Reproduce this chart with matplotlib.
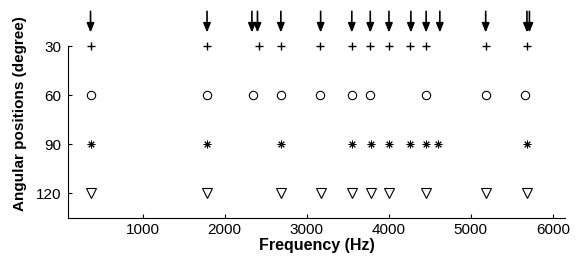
import matplotlib
matplotlib.use("Agg")
import matplotlib.pyplot as plt

plt.rcParams['font.family'] = ['Liberation Sans', 'DejaVu Sans']

# Data (frequencies in Hz)
arrow_freqs = [365, 1785, 2332, 2400, 2685, 3170, 3550, 3775, 4003, 4270, 4456, 4623, 5182, 5685, 5715]
plus_freqs = [365, 1785, 2413, 2685, 3163, 3548, 3775, 4003, 4258, 4456, 5182, 5690]
circle_freqs = [365, 1785, 2344, 2685, 3163, 3548, 3775, 4456, 5182, 5657]
star_freqs = [365, 1785, 2685, 3556, 3783, 4000, 4258, 4453, 4595, 5690]
tri_freqs = [365, 1785, 2685, 3175, 3556, 3780, 4000, 4456, 5182, 5690]
angles = [30, 60, 90, 120]
xticks = [1000, 2000, 3000, 4000, 5000, 6000]

fig = plt.figure(figsize=(5.79, 2.62), dpi=100)
ax = fig.add_axes([0.1174, 0.168, 0.976 - 0.1174, 0.981 - 0.168])

ax.plot(plus_freqs, [angles[0]] * len(plus_freqs), linestyle='none', marker='+',
        color='black', markersize=5.5, markeredgewidth=1.0)
ax.plot(circle_freqs, [angles[1]] * len(circle_freqs), linestyle='none', marker='o',
        markerfacecolor='none', markeredgecolor='black', markersize=6, markeredgewidth=0.8)
ax.plot(star_freqs, [angles[2]] * len(star_freqs), linestyle='none', marker=(8, 2, 0),
        color='black', markersize=5.5, markeredgewidth=0.7)
ax.plot(tri_freqs, [angles[3]] * len(tri_freqs), linestyle='none', marker='v',
        markerfacecolor='none', markeredgecolor='black', markersize=6.5, markeredgewidth=0.8)

for f in arrow_freqs:
    ax.annotate('', xy=(f, 21.5), xytext=(f, 8.5),
                arrowprops=dict(arrowstyle='-|>,head_length=0.55,head_width=0.22',
                                color='black', lw=1.2, shrinkA=0, shrinkB=0))

ax.set_xlim(90, 6150)
ax.set_ylim(135, 4.6)
ax.set_xticks(xticks)
ax.set_yticks(angles)
ax.spines['top'].set_visible(False)
ax.spines['right'].set_visible(False)
ax.spines['left'].set_bounds(30, 135)
ax.tick_params(direction='in', length=3, labelsize=11, width=0.8)
ax.tick_params(axis='y', pad=5)
ax.set_xlabel('Frequency (Hz)', fontsize=11.5, fontweight='bold', labelpad=1)
ax.set_ylabel('Angular positions (degree)', fontsize=11, fontweight='bold')
ax.yaxis.set_label_coords(-0.083, 0.49)

fig.savefig('out.png', dpi=100)
